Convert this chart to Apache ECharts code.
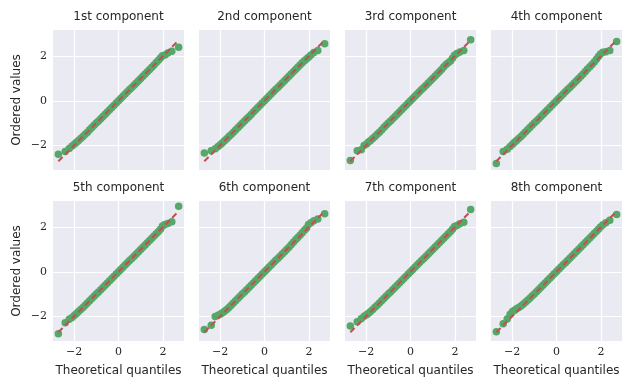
<!DOCTYPE html>
<html>
<head>
<meta charset="utf-8">
<script src="https://cdn.jsdelivr.net/npm/echarts@6/dist/echarts.min.js"></script>
<style>
    html, body { margin: 0; padding: 0; background: #fff; }
    #main { width: 634px; height: 389px; }
</style>
</head>
<body>
<div id="main"></div>
<script>
// theoretical quantiles (x of every panel)
var quantiles = [-2.71, -2.40, -2.22, -2.09, -1.98, -1.89, -1.80, -1.70, -1.60, -1.50,
    -1.40, -1.30, -1.20, -1.10, -1.00, -0.90, -0.80, -0.70, -0.60, -0.50,
    -0.40, -0.30, -0.20, -0.10, 0.00, 0.10, 0.20, 0.30, 0.40, 0.50,
    0.60, 0.70, 0.80, 0.90, 1.00, 1.10, 1.20, 1.30, 1.40, 1.50,
    1.60, 1.70, 1.80, 1.89, 1.98, 2.09, 2.22, 2.40, 2.71];

// ordered values of each component
var comp1 = [-2.39, -2.27, -2.14, -2.03, -1.93, -1.86, -1.78, -1.69, -1.60, -1.50,
    -1.41, -1.30, -1.20, -1.10, -1.00, -0.90, -0.80, -0.70, -0.60, -0.50,
    -0.40, -0.30, -0.20, -0.10, 0.00, 0.10, 0.20, 0.30, 0.40, 0.50,
    0.60, 0.70, 0.80, 0.90, 1.00, 1.10, 1.20, 1.30, 1.40, 1.50,
    1.60, 1.71, 1.81, 1.92, 2.02, 2.05, 2.14, 2.22, 2.40];
var comp2 = [-2.34, -2.24, -2.15, -2.05, -1.96, -1.88, -1.79, -1.70, -1.60, -1.51,
    -1.41, -1.31, -1.21, -1.11, -1.01, -0.91, -0.81, -0.71, -0.61, -0.50,
    -0.40, -0.30, -0.20, -0.10, 0.00, 0.10, 0.20, 0.30, 0.40, 0.50,
    0.60, 0.70, 0.80, 0.90, 1.00, 1.10, 1.20, 1.30, 1.40, 1.50,
    1.60, 1.70, 1.79, 1.87, 1.95, 2.05, 2.16, 2.25, 2.55];
var comp3 = [-2.67, -2.24, -2.19, -2.00, -1.93, -1.85, -1.78, -1.69, -1.60, -1.50,
    -1.41, -1.31, -1.20, -1.10, -1.00, -0.90, -0.80, -0.70, -0.60, -0.50,
    -0.40, -0.30, -0.20, -0.10, 0.00, 0.10, 0.20, 0.30, 0.40, 0.50,
    0.60, 0.70, 0.80, 0.90, 1.00, 1.10, 1.20, 1.30, 1.40, 1.52,
    1.63, 1.70, 1.78, 1.90, 2.04, 2.12, 2.18, 2.25, 2.73];
var comp4 = [-2.81, -2.27, -2.17, -2.05, -1.95, -1.86, -1.78, -1.69, -1.60, -1.50,
    -1.40, -1.30, -1.20, -1.10, -1.00, -0.90, -0.80, -0.70, -0.60, -0.50,
    -0.40, -0.30, -0.20, -0.10, 0.00, 0.10, 0.20, 0.30, 0.40, 0.50,
    0.60, 0.70, 0.80, 0.90, 1.00, 1.10, 1.20, 1.31, 1.42, 1.52,
    1.63, 1.74, 1.86, 1.98, 2.10, 2.17, 2.20, 2.25, 2.65];
var comp5 = [-2.78, -2.28, -2.13, -2.05, -1.95, -1.87, -1.78, -1.69, -1.60, -1.50,
    -1.40, -1.30, -1.20, -1.10, -1.00, -0.90, -0.80, -0.70, -0.60, -0.50,
    -0.40, -0.30, -0.20, -0.10, 0.00, 0.10, 0.20, 0.30, 0.40, 0.50,
    0.60, 0.70, 0.80, 0.90, 1.00, 1.10, 1.20, 1.30, 1.40, 1.50,
    1.60, 1.70, 1.80, 1.90, 2.05, 2.12, 2.16, 2.24, 2.94];
var comp6 = [-2.58, -2.39, -2.00, -1.95, -1.89, -1.84, -1.77, -1.69, -1.60, -1.50,
    -1.40, -1.30, -1.20, -1.10, -1.00, -0.90, -0.80, -0.70, -0.60, -0.50,
    -0.40, -0.30, -0.20, -0.10, 0.00, 0.10, 0.20, 0.30, 0.40, 0.50,
    0.60, 0.70, 0.80, 0.90, 1.00, 1.10, 1.21, 1.32, 1.43, 1.54,
    1.64, 1.75, 1.86, 1.95, 2.12, 2.20, 2.28, 2.36, 2.60];
var comp7 = [-2.43, -2.24, -2.10, -1.99, -1.92, -1.86, -1.78, -1.69, -1.59, -1.50,
    -1.40, -1.30, -1.20, -1.10, -1.00, -0.90, -0.80, -0.70, -0.60, -0.50,
    -0.40, -0.30, -0.20, -0.10, 0.00, 0.10, 0.20, 0.30, 0.40, 0.50,
    0.60, 0.70, 0.80, 0.90, 1.00, 1.10, 1.20, 1.30, 1.40, 1.50,
    1.60, 1.70, 1.80, 1.90, 2.03, 2.07, 2.15, 2.22, 2.79];
var comp8 = [-2.69, -2.33, -2.12, -1.90, -1.78, -1.72, -1.66, -1.60, -1.53, -1.45,
    -1.37, -1.28, -1.19, -1.09, -0.99, -0.89, -0.79, -0.69, -0.59, -0.49,
    -0.39, -0.29, -0.19, -0.09, 0.01, 0.11, 0.21, 0.31, 0.41, 0.51,
    0.61, 0.71, 0.81, 0.91, 1.01, 1.11, 1.21, 1.31, 1.41, 1.51,
    1.61, 1.71, 1.81, 1.91, 2.01, 2.11, 2.20, 2.31, 2.57];

var components = [comp1, comp2, comp3, comp4, comp5, comp6, comp7, comp8];
var titles = ['1st component', '2nd component', '3rd component', '4th component',
    '5th component', '6th component', '7th component', '8th component'];
var tickValues = [-2, 0, 2];
var lineEnds = [-2.71, 2.71];   // 45 degree reference line

var textColor = '#262626';
var sansFont = 'DejaVu Sans';
var serifFont = 'DejaVu Serif';

function minusLabel(v) {
    return v < 0 ? '\u2212' + Math.abs(v) : String(v);
}

function init() {
    var myChart = echarts.init(document.getElementById('main'));
    var lefts = [53, 199, 345, 491];
    var tops = [30, 201];
    var w = 131, h = 140;

    var grid = [], xAxis = [], yAxis = [], series = [], title = [];
    for (var i = 0; i < components.length; i++) {
        var row = Math.floor(i / 4), col = i % 4;
        grid.push({
            left: lefts[col], top: tops[row], width: w, height: h,
            show: true, backgroundColor: '#EAEAF2', borderWidth: 0
        });
        title.push({
            text: titles[i],
            left: lefts[col] + w / 2,
            top: tops[row] - 19,
            textAlign: 'center',
            padding: 0,
            textStyle: { fontFamily: sansFont, fontSize: 12, fontWeight: 'normal', color: textColor }
        });
        xAxis.push({
            gridIndex: i, type: 'value', min: -2.95, max: 2.95,
            axisLine: { show: false },
            axisTick: { show: false, customValues: tickValues },
            splitLine: { show: true, lineStyle: { color: '#ffffff', width: 1.2 } },
            axisLabel: {
                show: row === 1, customValues: tickValues, margin: 6,
                fontFamily: serifFont, fontSize: 11, color: textColor, formatter: minusLabel
            },
            name: row === 1 ? 'Theoretical quantiles' : '',
            nameLocation: 'middle', nameGap: 24,
            nameTextStyle: { fontFamily: sansFont, fontSize: 12, color: textColor }
        });
        yAxis.push({
            gridIndex: i, type: 'value', min: -3.1, max: 3.17,
            axisLine: { show: false },
            axisTick: { show: false, customValues: tickValues },
            splitLine: { show: true, lineStyle: { color: '#ffffff', width: 1.2 } },
            axisLabel: {
                show: col === 0, customValues: tickValues, margin: 6,
                fontFamily: serifFont, fontSize: 11, color: textColor, formatter: minusLabel
            },
            name: col === 0 ? 'Ordered values' : '',
            nameLocation: 'middle', nameGap: 30,
            nameTextStyle: { fontFamily: sansFont, fontSize: 12, color: textColor }
        });

        var pts = [];
        for (var k = 0; k < quantiles.length; k++) {
            pts.push([quantiles[k], components[i][k]]);
        }
        series.push({
            type: 'scatter', xAxisIndex: i, yAxisIndex: i,
            data: pts, symbolSize: 7.5,
            itemStyle: { color: '#55A868', opacity: 1 },
            silent: true, z: 2
        });
        series.push({
            type: 'line', xAxisIndex: i, yAxisIndex: i,
            data: [[lineEnds[0], lineEnds[0]], [lineEnds[1], lineEnds[1]]],
            showSymbol: false, symbol: 'none',
            lineStyle: { color: '#C44E52', width: 2, type: [6, 3.5] },
            silent: true, z: 3
        });
    }

    myChart.setOption({
        animation: false,
        title: title,
        grid: grid,
        xAxis: xAxis,
        yAxis: yAxis,
        series: series
    });
}

init();
</script>
</body>
</html>
